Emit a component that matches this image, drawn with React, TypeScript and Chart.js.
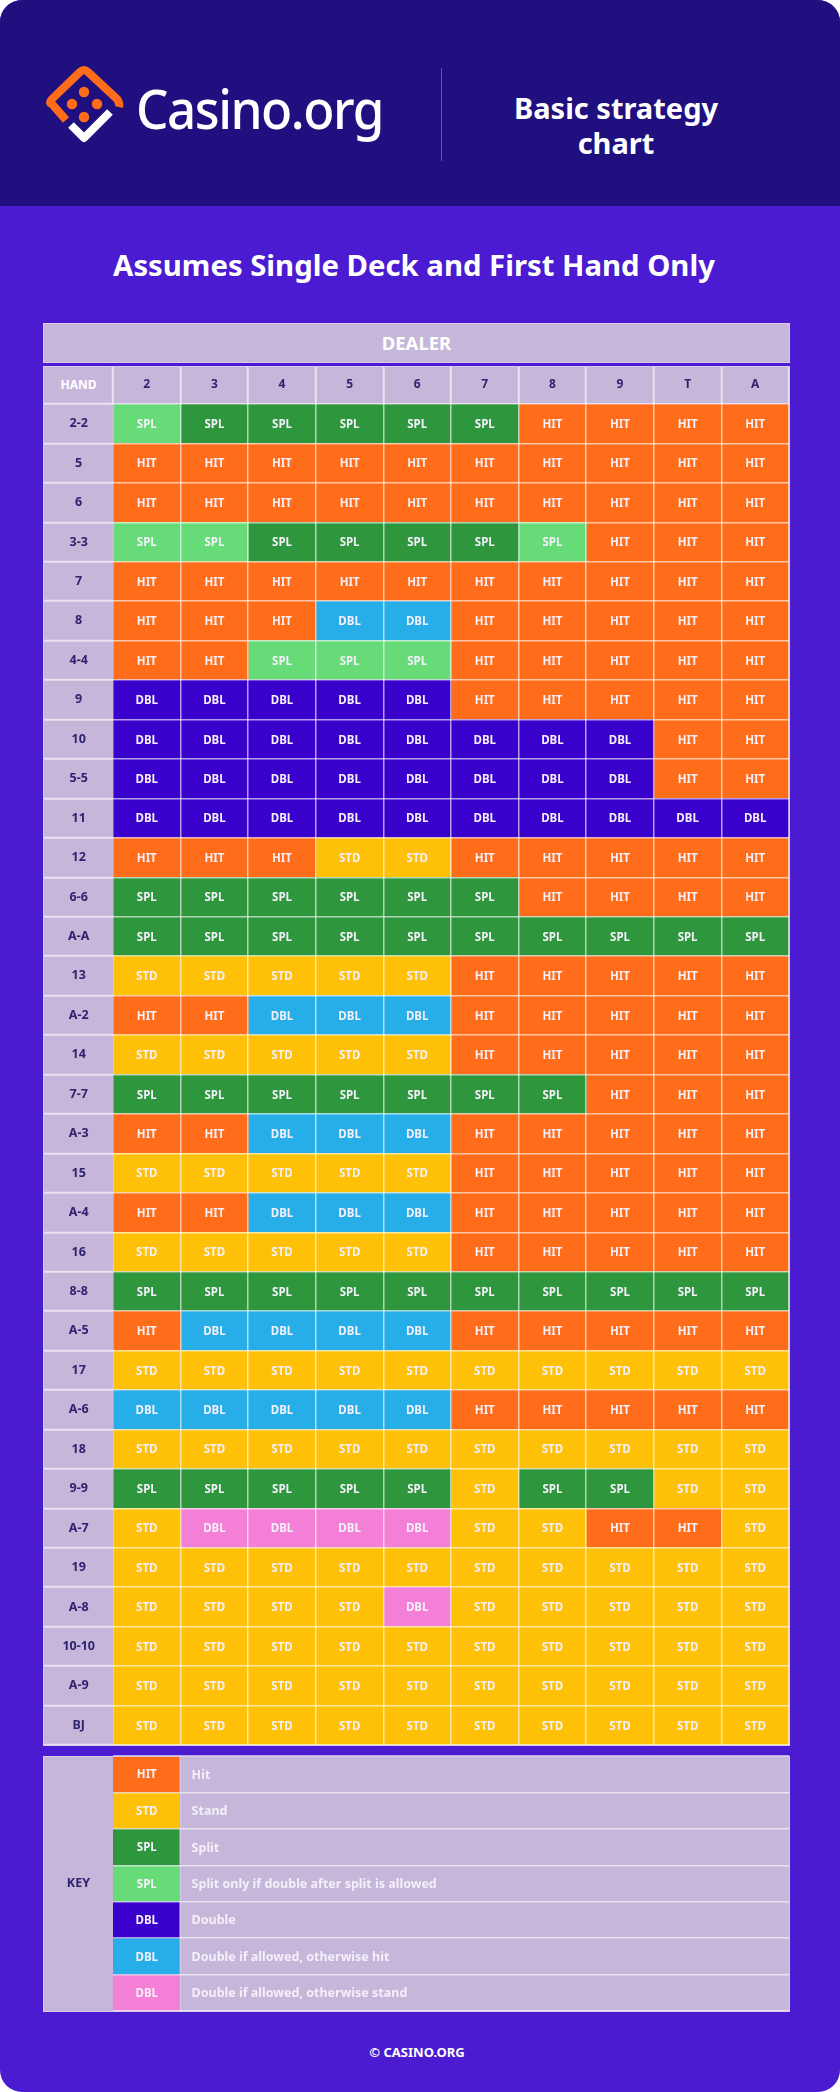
import { useEffect, useRef } from 'react';
import Chart from 'chart.js/auto';

const FONT = '"Noto Sans", sans-serif';
const LILAC = '#C6B6DA';
const INK = '#2F2370';
const LINE = 'rgba(255,255,255,0.62)';

const dealerCards = ['2', '3', '4', '5', '6', '7', '8', '9', 'T', 'A'];

const hands = [
  '2-2', '5', '6', '3-3', '7', '8', '4-4', '9', '10', '5-5', '11', '12', '6-6', 'A-A', '13', 'A-2', '14',
  '7-7', 'A-3', '15', 'A-4', '16', '8-8', 'A-5', '17', 'A-6', '18', '9-9', 'A-7', '19', 'A-8', '10-10', 'A-9', 'BJ',
];

// one string per hand, one letter per dealer card
// H hit, S stand, P split, p split if DAS, D double, d double/hit, x double/stand
const plays = [
  'pPPPPPHHHH', 'HHHHHHHHHH', 'HHHHHHHHHH', 'ppPPPPpHHH', 'HHHHHHHHHH', 'HHHddHHHHH', 'HHpppHHHHH',
  'DDDDDHHHHH', 'DDDDDDDDHH', 'DDDDDDDDHH', 'DDDDDDDDDD', 'HHHSSHHHHH', 'PPPPPPHHHH', 'PPPPPPPPPP',
  'SSSSSHHHHH', 'HHdddHHHHH', 'SSSSSHHHHH', 'PPPPPPPHHH', 'HHdddHHHHH', 'SSSSSHHHHH', 'HHdddHHHHH',
  'SSSSSHHHHH', 'PPPPPPPPPP', 'HddddHHHHH', 'SSSSSSSSSS', 'dddddHHHHH', 'SSSSSSSSSS', 'PPPPPSPPSS',
  'SxxxxSSHHS', 'SSSSSSSSSS', 'SSSSxSSSSS', 'SSSSSSSSSS', 'SSSSSSSSSS', 'SSSSSSSSSS',
];

const keyCodes = ['H', 'S', 'P', 'p', 'D', 'd', 'x'];
const keyText = [
  'Hit',
  'Stand',
  'Split',
  'Split only if double after split is allowed',
  'Double',
  'Double if allowed, otherwise hit',
  'Double if allowed, otherwise stand',
];
const keyRowLabels = ['', '', '', 'KEY', '', '', ''];

const playLabel: Record<string, string> = { H: 'HIT', S: 'STD', P: 'SPL', p: 'SPL', D: 'DBL', d: 'DBL', x: 'DBL' };
const playColor: Record<string, string> = {
  H: '#FF6D1B',
  S: '#FFC107',
  P: '#2E973E',
  p: '#66DB78',
  D: '#3A00CC',
  d: '#27AEE8',
  x: '#F47FD6',
};

// writes the play code in the middle of each bar, description text at the left of the wide key bar
const barText = {
  id: 'barText',
  afterDatasetsDraw(chart: any) {
    const { ctx } = chart;
    ctx.save();
    ctx.textBaseline = 'middle';
    chart.data.datasets.forEach((ds: any, d: number) => {
      chart.getDatasetMeta(d).data.forEach((bar: any, i: number) => {
        const text = ds.texts[i];
        ctx.fillStyle = '#F4F0FA';
        if (ds.leftText) {
          ctx.font = `700 12.5px ${FONT}`;
          ctx.textAlign = 'left';
          ctx.fillText(text, bar.base + 11, bar.y + 1);
        } else {
          ctx.font = `700 11.5px ${FONT}`;
          ctx.textAlign = 'center';
          ctx.fillText(text, (bar.base + bar.x) / 2, bar.y + 1);
        }
      });
    });
    ctx.restore();
  },
};

const StrategyGrid = () => {
  const ref = useRef<HTMLCanvasElement>(null);

  useEffect(() => {
    if (!ref.current) return;
    const chart = new Chart(ref.current, {
      type: 'bar',
      data: {
        labels: hands,
        datasets: dealerCards.map((_, c) => ({
          label: dealerCards[c],
          data: hands.map(() => 1),
          backgroundColor: plays.map((row) => playColor[row[c]]),
          texts: plays.map((row) => playLabel[row[c]]),
          barPercentage: 1,
          categoryPercentage: 1,
          borderWidth: 0,
          xAxisID: 'x',
        })) as any,
      },
      options: {
        indexAxis: 'y',
        responsive: false,
        animation: false,
        events: [],
        layout: { padding: { left: 44, right: 51, top: 0, bottom: 2 } },
        plugins: { legend: { display: false }, title: { display: false }, tooltip: { enabled: false } },
        scales: {
          x: { type: 'linear', stacked: true, min: 0, max: 10, display: false },
          dealer: {
            type: 'category',
            position: 'top',
            axis: 'x',
            labels: dealerCards,
            offset: true,
            backgroundColor: LILAC,
            afterFit: (s: any) => { s.height = 38; },
            border: { display: false },
            grid: { offset: true, z: 1, color: LINE, lineWidth: 1.5, tickLength: 38, tickColor: LINE, tickWidth: 2 },
            ticks: {
              z: 2,
              padding: -26,
              maxRotation: 0,
              autoSkip: false,
              color: INK,
              font: { family: FONT, size: 12, weight: 700 },
            },
          },
          y: {
            stacked: true,
            backgroundColor: LILAC,
            afterFit: (s: any) => { s.width = 69; },
            border: { display: false },
            grid: { offset: true, z: 1, color: LINE, lineWidth: 1.5, tickLength: 69, tickColor: LINE, tickWidth: 2 },
            ticks: {
              z: 2,
              padding: -51,
              crossAlign: 'center',
              autoSkip: false,
              color: INK,
              font: { family: FONT, size: 12.5, weight: 700 },
            },
          },
        },
      } as any,
      plugins: [barText],
    });
    return () => chart.destroy();
  }, []);

  return <canvas ref={ref} width={840} height={1381} style={{ position: 'absolute', left: 0, top: 366 }} />;
};

const KeyGrid = () => {
  const ref = useRef<HTMLCanvasElement>(null);

  useEffect(() => {
    if (!ref.current) return;
    const chart = new Chart(ref.current, {
      type: 'bar',
      data: {
        labels: keyRowLabels,
        datasets: [
          {
            label: 'code',
            data: keyCodes.map(() => 1),
            backgroundColor: keyCodes.map((k) => playColor[k]),
            texts: keyCodes.map((k) => playLabel[k]),
            barPercentage: 1,
            categoryPercentage: 1,
            borderWidth: { right: 1.5 },
            borderColor: LINE,
            borderSkipped: false,
          },
          {
            label: 'meaning',
            data: keyCodes.map(() => 9),
            backgroundColor: LILAC,
            texts: keyText,
            leftText: true,
            barPercentage: 1,
            categoryPercentage: 1,
            borderWidth: 0,
          },
        ] as any,
      },
      options: {
        indexAxis: 'y',
        responsive: false,
        animation: false,
        events: [],
        layout: { padding: { left: 44, right: 51, top: 1, bottom: 1 } },
        plugins: { legend: { display: false }, title: { display: false }, tooltip: { enabled: false } },
        scales: {
          x: { stacked: true, min: 0, max: 10, display: false },
          y: {
            stacked: true,
            backgroundColor: LILAC,
            afterFit: (s: any) => { s.width = 69; },
            border: { display: false },
            // the key column stays one block, so the tick marks are invisible
            grid: { offset: true, z: 1, color: LINE, lineWidth: 1.5, tickLength: 69, tickColor: 'transparent' },
            ticks: {
              z: 2,
              padding: -46,
              crossAlign: 'center',
              autoSkip: false,
              color: INK,
              font: { family: FONT, size: 12.5, weight: 700 },
            },
          },
        },
      } as any,
      plugins: [barText],
    });
    return () => chart.destroy();
  }, []);

  return <canvas ref={ref} width={840} height={257} style={{ position: 'absolute', left: 0, top: 1755 }} />;
};

const Logo = () => (
  <svg width={110} height={100} viewBox="0 0 110 100" style={{ position: 'absolute', left: 35, top: 55 }}>
    <path
      d="M31 65 L17 49 Q13 48 17 44 L45 17 Q49 13 53 17 L82 44 Q85 48 84 52"
      fill="none"
      stroke="#FF6D1B"
      strokeWidth={8}
      strokeLinecap="butt"
      strokeLinejoin="round"
    />
    <path d="M36 70 L49 83 L75 57" fill="none" stroke="#fff" strokeWidth={8} strokeLinejoin="round" />
    <circle cx={49} cy={37} r={5.2} fill="#FF6D1B" />
    <circle cx={37} cy={49} r={5.2} fill="#FF6D1B" />
    <circle cx={62} cy={49} r={5.2} fill="#FF6D1B" />
    <circle cx={49} cy={62} r={5.2} fill="#FF6D1B" />
  </svg>
);

const frame = (top: number, height: number) => (
  <div
    style={{
      position: 'absolute',
      left: 43,
      top,
      width: 745,
      height,
      border: '1.5px solid #D8CCE8',
      pointerEvents: 'none',
    }}
  />
);

export default function App() {
  const text = { position: 'absolute', color: '#fff', fontFamily: FONT, textAlign: 'center' } as const;
  return (
    <div style={{ position: 'relative', width: 840, height: 2092, background: '#4B1BD1', borderRadius: 22, overflow: 'hidden' }}>
      <style>{'body{margin:0;background:#fff}'}</style>
      <div style={{ position: 'absolute', left: 0, top: 0, width: 840, height: 206, background: '#20107F' }} />
      <Logo />
      <div style={{ ...text, left: 136, top: 70, fontSize: 55, fontWeight: 500, lineHeight: '76px', letterSpacing: -1.6, transform: 'scaleX(0.93)', transformOrigin: 'left center' }}>Casino.org</div>
      <div style={{ position: 'absolute', left: 441, top: 68, width: 1, height: 93, background: '#93503F' }} />
      <div style={{ ...text, left: 466, width: 300, top: 90, fontSize: 29, fontWeight: 700, lineHeight: '35px' }}>
        Basic strategy<br />chart
      </div>
      <div style={{ ...text, left: 0, width: 828, top: 244, fontSize: 29.3, fontWeight: 700, lineHeight: '42px' }}>
        Assumes Single Deck and First Hand Only
      </div>

      <div style={{ ...text, left: 44, top: 323, width: 745, height: 39, lineHeight: '39px', background: LILAC, fontSize: 18.5, fontWeight: 700 }}>DEALER</div>
      <div style={{ ...text, left: 44, top: 366, width: 69, height: 38, lineHeight: '38px', background: LILAC, fontSize: 12, fontWeight: 700 }}>HAND</div>
      <StrategyGrid />
      {frame(323, 38)}
      {frame(366, 1378)}

      <KeyGrid />
      {frame(1756, 254)}

      <div style={{ ...text, left: 0, width: 834, top: 2042, fontSize: 13, fontWeight: 700, lineHeight: '20px' }}>© CASINO.ORG</div>
    </div>
  );
}
